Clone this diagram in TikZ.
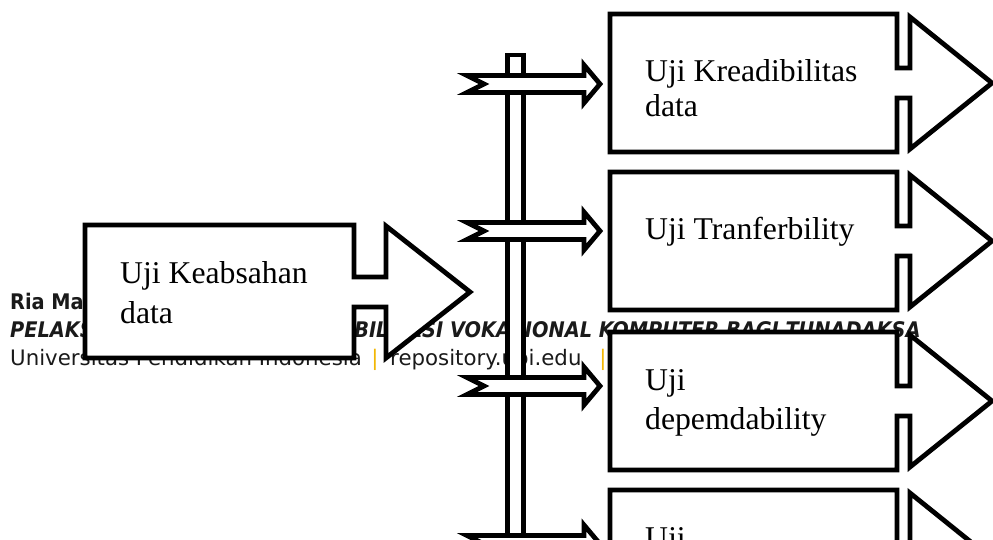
\documentclass[tikz,border=0pt]{standalone}
\usepackage{fontspec}
\setmainfont{Liberation Serif}
\newfontfamily\footfont{DejaVu Sans Condensed}
\newfontfamily\footfontwide{DejaVu Sans}
\definecolor{ybar}{HTML}{F2B705}
\definecolor{foottext}{HTML}{1A1A1A}
\tikzset{
  outline/.style={draw=black, line width=4.8pt, fill=white, miter limit=10},
  boxtext/.style={anchor=base west, inner sep=0pt, font=\fontsize{31.7}{38}\selectfont},
  foot/.style={anchor=base west, inner sep=0pt, text=foottext},
  footbold/.style={foot, font=\footfont\bfseries\fontsize{21.5}{25}\selectfont},
  footbolditalic/.style={foot, font=\footfont\bfseries\itshape\fontsize{21.5}{25}\selectfont},
  footplain/.style={foot, font=\footfontwide\fontsize{21.3}{25}\selectfont},
  footbar/.style={anchor=base, inner sep=0pt, text=ybar, font=\footfontwide\fontsize{21.3}{25}\selectfont},
}
\begin{document}
\begin{tikzpicture}[x=1pt, y=-1pt]
\useasboundingbox (0,0) rectangle (993,540);
\clip (0,0) rectangle (993,540);
\fill[white] (0,0) rectangle (993,540);

% footer lines lying underneath the diagram
\node[footbold] (f1) at (10,309) {Ria Ma};
\node[footbolditalic] (f2) at (10,337)
  {PELAKSANAAN PROGRAM REHABILITASI VOKASIONAL KOMPUTER BAGI TUNADAKSA};
\node[footplain] (f3) at (10,365) {Universitas Pendidikan Indonesia};
\node[footbar] (b1) at (375,365) {|};
\node[footplain] (f4) at (390,365) {repository.upi.edu};
\node[footbar] (b2) at (603,365) {|};

% left callout: box, short shaft and arrow head
\draw[outline] (85,225) -- (354,225) -- (354,277) -- (386,277) -- (386,226) -- (470,292)
  -- (386,358) -- (386,307) -- (354,307) -- (354,358) -- (85,358) -- cycle;
\node[boxtext] (k1) at (120,283) {Uji Keabsahan};
\node[boxtext] (k2) at (120,323) {data};

% vertical double bar
\draw[outline] (507.5,560) -- (507.5,55) -- (523.5,55) -- (523.5,560);

% branch arrows with notched tails
\foreach \yy/\nm in {84/a1,231/a2,386/a3,544/a4}{
  \draw[outline] (467,\yy-8.5) -- (584,\yy-8.5) -- (584,\yy-19) -- (600,\yy) -- (584,\yy+19)
    -- (584,\yy+8.5) -- (467,\yy+8.5) -- (484,\yy) -- cycle;
  \coordinate (\nm) at (600,\yy);
}

% right callouts
\foreach \cy/\nm in {83/r1,241/r2,401/r3,559/r4}{
  \draw[outline] (610,\cy-69) -- (897,\cy-69) -- (897,\cy-15) -- (910,\cy-15) -- (910,\cy-66)
    -- (992,\cy) -- (910,\cy+66) -- (910,\cy+15) -- (897,\cy+15) -- (897,\cy+69)
    -- (610,\cy+69) -- cycle;
  \coordinate (\nm) at (610,\cy);
}
\node[boxtext] (t1a) at (645,82) {Uji Kreadibilitas};
\node[boxtext] (t1b) at (645,117) {data};
\node[boxtext] (t2a) at (645,240) {Uji Tranferbility};
\node[boxtext] (t3a) at (645,390) {Uji};
\node[boxtext] (t3b) at (645,429) {depemdability};
\node[boxtext] (t4a) at (645,548) {Uji};
\end{tikzpicture}
\end{document}
